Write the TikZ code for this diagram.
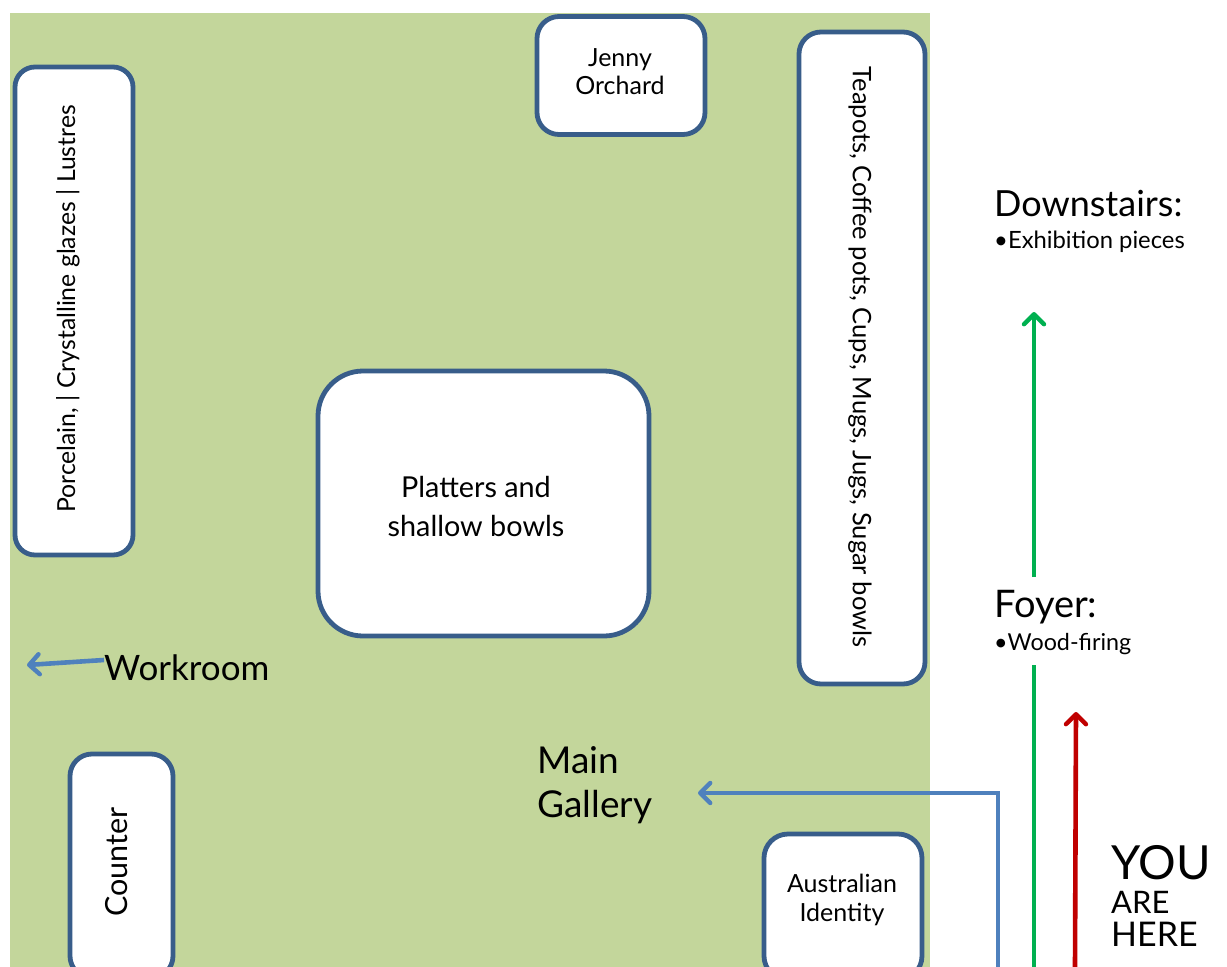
\documentclass[tikz,border=0pt]{standalone}
\usepackage{fontspec}
\setmainfont{Lato}
\usetikzlibrary{arrows.meta}
\definecolor{floorgreen}{HTML}{C3D69B}
\definecolor{boxblue}{HTML}{385D8A}
\definecolor{linkblue}{HTML}{4F81BD}
\definecolor{linkgreen}{HTML}{00B050}
\definecolor{linkred}{HTML}{C00000}
\newcommand{\fs}[2]{\fontsize{#1}{#2}\selectfont}
\tikzset{
  x=1pt,y=-1pt,
  room/.style={draw=boxblue,fill=white,line width=4.8pt,inner sep=0pt,align=center,text=black},
  lbl/.style={inner sep=0pt,text=black,anchor=base west},
  clbl/.style={inner sep=0pt,text=black,align=center},
  barb/.style={-{Straight Barb[length=10pt,width=20pt,line width=4.4pt,round]},line width=4.6pt},
  plainline/.style={line width=4.6pt}
}
\begin{document}
\begin{tikzpicture}
\useasboundingbox (0,0) rectangle (1227,967);
\node[fill=floorgreen,inner sep=0pt,minimum width=920pt,minimum height=954pt,anchor=north west] (floor) at (10,13) {};

\node[room,rounded corners=22pt,minimum width=168pt,minimum height=118pt] (jenny) at (621,75.5) {};
\node[clbl,font=\fs{25}{28}] (jennytext) at (620,72) {Jenny\\Orchard};
\node[room,rounded corners=22pt,minimum width=126pt,minimum height=652pt] (teapots) at (862,358) {};
\node[clbl,rotate=-90,font=\fs{25.5}{26}] (teapotstext) at (860,357) {Teapots, Coffee pots, Cups, Mugs, Jugs, Sugar bowls};
\node[room,rounded corners=20pt,minimum width=118pt,minimum height=488pt] (porcelain) at (74,311) {};
\node[clbl,rotate=90,font=\fs{24.8}{26}] (porcelaintext) at (68,309) {Porcelain, | Crystalline glazes | Lustres};
\node[room,rounded corners=45pt,minimum width=331pt,minimum height=265pt] (platters) at (483.5,503.5) {};
\node[clbl,font=\fs{28.8}{39}] (platterstext) at (476,507) {Platters and\\shallow bowls};
\node[room,rounded corners=22pt,minimum width=103pt,minimum height=224pt] (counter) at (121.5,866) {};
\node[clbl,rotate=90,font=\fs{30.5}{30}] (countertext) at (117,862) {Counter};
\node[room,rounded corners=24pt,minimum width=158pt,minimum height=146pt] (australian) at (843,907) {};
\node[clbl,font=\fs{25}{29}] (australiantext) at (842,900) {Australian\\Identity};

\node[lbl,font=\fs{35}{35}] (workroom) at (104,680) {Workroom};
\node[lbl,font=\fs{37}{37}] (main) at (537,773) {Main};
\node[lbl,font=\fs{37}{37}] (gallery) at (537,817) {Gallery};
\node[lbl,font=\fs{36}{36}] (downstairs) at (994,216) {Downstairs:};
\node[lbl,font=\fs{23.8}{24}] (exhibition) at (994,248) {•Exhibition pieces};
\node[lbl,font=\fs{38}{38}] (foyer) at (994,617) {Foyer:};
\node[lbl,font=\fs{23.3}{24}] (wood) at (994,650) {•Wood-firing};
\node[lbl,font=\fs{47}{47},text height=33pt,text depth=0pt] (you) at (1111,879) {YOU};
\node[lbl,font=\fs{31}{31},text height=22pt,text depth=0pt] (are) at (1111,913) {ARE};
\node[lbl,font=\fs{34}{34},text height=22pt,text depth=0pt] (here) at (1111,946) {HERE};

\coordinate (bluestart) at (998,967);
\coordinate (bluebend) at (998,793);
\coordinate (blueend) at (698,793);
\coordinate (greenstart) at (1034,967);
\coordinate (greenstop) at (1034,665);
\coordinate (greenresume) at (1034,577);
\coordinate (greenend) at (1034,312);
\coordinate (redstart) at (1075,967);
\coordinate (redend) at (1076,712);
\coordinate (workstart) at (104,660);
\coordinate (workend) at (27,665);

\draw[barb,draw=linkblue,line join=miter] (bluestart) -- (bluebend) -- (blueend);
\draw[plainline,draw=linkgreen] (greenstart) -- (greenstop);
\draw[barb,draw=linkgreen] (greenresume) -- (greenend);
\draw[barb,draw=linkred] (redstart) -- (redend);
\draw[barb,draw=linkblue] (workstart) -- (workend);
\end{tikzpicture}
\end{document}
